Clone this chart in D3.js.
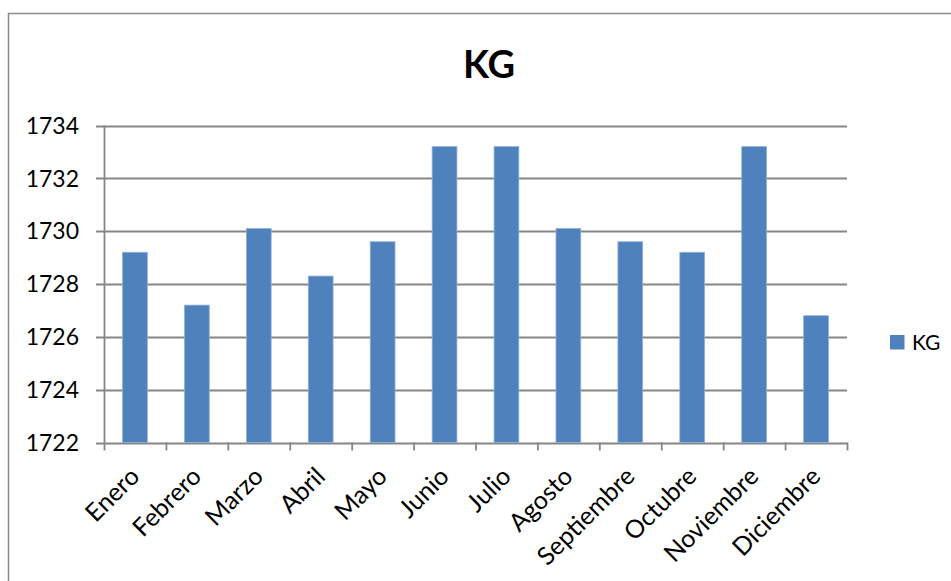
<!DOCTYPE html>
<html>
<head>
<meta charset="utf-8">
<script src="https://cdn.jsdelivr.net/npm/d3@7"></script>
<style>
  html, body { margin: 0; padding: 0; background: #ffffff; }
  svg { display: block; }
  text { font-family: Lato, "Noto Sans", sans-serif; fill: #000; }
</style>
</head>
<body>
<svg id="chart" width="951" height="581"></svg>
<script>
const categories = ["Enero", "Febrero", "Marzo", "Abril", "Mayo", "Junio", "Julio", "Agosto", "Septiembre", "Octubre", "Noviembre", "Diciembre"];
const values = [1729.2, 1727.2, 1730.1, 1728.3, 1729.6, 1733.2, 1733.2, 1730.1, 1729.6, 1729.2, 1733.2, 1726.8];
const yTicks = [1722, 1724, 1726, 1728, 1730, 1732, 1734];
const seriesName = "KG";
const chartTitle = "KG";

const svg = d3.select("#chart");
const W = 951, H = 581;
const plot = { left: 104, right: 847, top: 125.5, bottom: 442.5 };
const gridColor = "#868686";
const barColor = "#4F81BD";

svg.append("rect").attr("x", 0).attr("y", 0).attr("width", W).attr("height", H).attr("fill", "#fff");

// outer chart border
svg.append("rect")
  .attr("x", 8.5).attr("y", 13.5)
  .attr("width", W + 20).attr("height", H + 20)
  .attr("fill", "none").attr("stroke", "#8c8c8c").attr("stroke-width", 1.5);

const x = d3.scaleBand().domain(categories).range([plot.left, plot.right]).paddingInner(0.6).paddingOuter(0.3);
const y = d3.scaleLinear().domain([d3.min(yTicks), d3.max(yTicks)]).range([plot.bottom, plot.top]);

// gridlines
svg.append("g").selectAll("line").data(yTicks).join("line")
  .attr("x1", plot.left - 8).attr("x2", plot.right)
  .attr("y1", d => Math.round(y(d)) + 0.5).attr("y2", d => Math.round(y(d)) + 0.5)
  .attr("stroke", gridColor).attr("stroke-width", 1.8);

// y axis line
svg.append("line")
  .attr("x1", plot.left + 0.5).attr("x2", plot.left + 0.5)
  .attr("y1", y(d3.max(yTicks))).attr("y2", plot.bottom)
  .attr("stroke", gridColor).attr("stroke-width", 1.8);

// y tick labels
svg.append("g").selectAll("text").data(yTicks).join("text")
  .attr("x", 79).attr("y", d => y(d))
  .attr("dy", "0.36em")
  .attr("text-anchor", "end")
  .attr("font-size", 23)
  .text(d => d);

// x tick marks at band boundaries
const step = x.step();
const boundaries = d3.range(categories.length + 1).map(i => plot.left + i * step);
svg.append("g").selectAll("line").data(boundaries).join("line")
  .attr("x1", d => d + 0.5).attr("x2", d => d + 0.5)
  .attr("y1", plot.bottom).attr("y2", plot.bottom + 8)
  .attr("stroke", gridColor).attr("stroke-width", 1.8);

// bars
svg.append("g").selectAll("rect").data(values).join("rect")
  .attr("x", (d, i) => x(categories[i]))
  .attr("y", d => y(d))
  .attr("width", x.bandwidth())
  .attr("height", d => plot.bottom - y(d))
  .attr("fill", barColor)
  .attr("stroke", "#8fb0da").attr("stroke-width", 0.8);

// x labels
svg.append("g").selectAll("text").data(categories).join("text")
  .attr("transform", d => `translate(${x(d) + x.bandwidth() / 2 + 6},${478}) rotate(-45)`)
  .attr("text-anchor", "end")
  .attr("font-size", 25)
  .text(d => d);

// title
svg.append("text")
  .attr("x", 489).attr("y", 78)
  .attr("text-anchor", "middle")
  .attr("font-size", 38).attr("font-weight", "bold")
  .text(chartTitle);

// legend
svg.append("rect").attr("x", 890).attr("y", 335).attr("width", 14.5).attr("height", 14.5).attr("fill", barColor);
svg.append("text").attr("x", 912).attr("y", 349.5).attr("font-size", 21).text(seriesName);
</script>
</body>
</html>
